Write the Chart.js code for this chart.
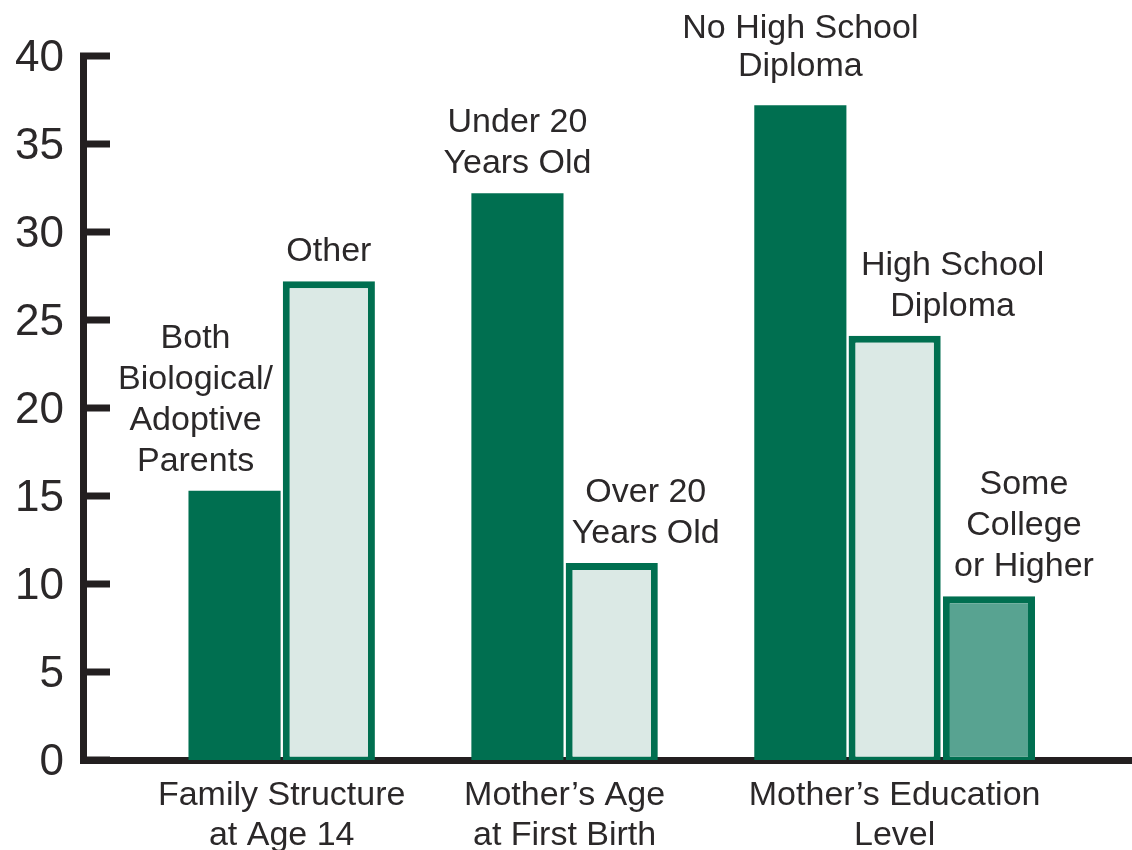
<!DOCTYPE html>
<html>
<head>
<meta charset="utf-8">
<script src="https://cdn.jsdelivr.net/npm/chart.js@4.4.1/dist/chart.umd.min.js"></script>
<style>
  html, body { margin: 0; padding: 0; background: #ffffff; }
  #wrap { width: 1132px; height: 850px; position: relative; }
</style>
</head>
<body>
<div id="wrap"><canvas id="chart"></canvas></div>
<script>
// ---- data ----
const categories = ["Family Structure\nat Age 14", "Mother\u2019s Age\nat First Birth", "Mother\u2019s Education\nLevel"];
const seriesFirst  = [15.3, 32.2, 37.2];
const seriesSecond = [27.2, 11.2, 24.1];
const seriesThird  = [null, null, 9.3];
const labelsFirst  = ["Both\nBiological/\nAdoptive\nParents", "Under 20\nYears Old", "No High School\nDiploma"];
const labelsSecond = ["Other", "Over 20\nYears Old", "High School\nDiploma"];
const labelsThird  = [null, null, "Some\nCollege\nor Higher"];
const yTickValues  = [0, 5, 10, 15, 20, 25, 30, 35, 40];

// ---- style ----
const FONT = "'Liberation Sans', Arial, Helvetica, sans-serif";
const TEXT = '#2b2829';
const AXIS = '#231f20';
const DARK = '#006f50';
const LIGHT = '#dbe9e5';
const MEDIUM = '#58a391';
const labelShiftX = [[-39, 0, 0], [0, 34, 58], [0, 0, 35]];
const labelShiftY = [[0, 0, -9], [0, 0, 0], [0, 0, 0]];
const labelLineH  = [[41, 41, 38], [41, 41, 41], [41, 41, 41]];

const seriesList = [seriesFirst, seriesSecond, seriesThird];
function groupCenter(i) {
  const S = seriesList.length;
  const n = seriesList.filter(a => a[i] !== null && a[i] !== undefined).length;
  return i + ((n - 1) / 2 - (S - 1) / 2) / S;
}

const barLabelPlugin = {
  id: 'barLabels',
  afterDatasetsDraw(chart) {
    const ctx = chart.ctx;
    ctx.save();
    ctx.font = '34px ' + FONT;
    ctx.fillStyle = TEXT;
    ctx.textAlign = 'center';
    ctx.textBaseline = 'alphabetic';
    chart.data.datasets.forEach((ds, d) => {
      const meta = chart.getDatasetMeta(d);
      (ds.barLabels || []).forEach((txt, j) => {
        if (!txt) return;
        const el = meta.data[j];
        const lines = txt.split('\n');
        const x = el.x + labelShiftX[d][j];
        lines.forEach((ln, k) => {
          const y = el.y - 20 + labelShiftY[d][j] - (lines.length - 1 - k) * labelLineH[d][j];
          ctx.fillText(ln, x, y);
        });
      });
    });
    ctx.restore();
  }
};

const yTickMarkPlugin = {
  id: 'yTickMarks',
  afterDatasetsDraw(chart) {
    const s = chart.scales.y, a = chart.chartArea, ctx = chart.ctx;
    ctx.save();
    ctx.strokeStyle = AXIS;
    ctx.lineWidth = 7;
    ctx.lineCap = 'butt';
    s.ticks.forEach(t => {
      const y = s.getPixelForValue(t.value);
      ctx.beginPath();
      ctx.moveTo(a.left - 3, y);
      ctx.lineTo(a.left + 27, y);
      ctx.stroke();
    });
    ctx.restore();
  }
};

new Chart(document.getElementById('chart'), {
  type: 'bar',
  data: {
    labels: categories.map((c, i) => i),
    datasets: [
      { data: seriesFirst, barLabels: labelsFirst, backgroundColor: DARK, borderWidth: 0, base: -0.2 },
      { data: seriesSecond, barLabels: labelsSecond, backgroundColor: LIGHT, borderColor: DARK, borderWidth: 7, borderSkipped: false, base: -0.2 },
      { data: seriesThird, barLabels: labelsThird, backgroundColor: MEDIUM, borderColor: DARK, borderWidth: 7, borderSkipped: false, base: -0.2 }
    ]
  },
  options: {
    responsive: true,
    maintainAspectRatio: false,
    animation: false,
    devicePixelRatio: 1,
    layout: { padding: { top: 56, left: 0, right: 0, bottom: 0 } },
    categoryPercentage: 1,
    barPercentage: 0.977,
    plugins: { legend: { display: false }, tooltip: { enabled: false } },
    scales: {
      x: {
        type: 'linear',
        min: -0.869,
        max: 2.839,
        bounds: 'data',
        offset: false,
        grid: { display: false, drawTicks: false, offset: false },
        border: { display: true, width: 7, color: AXIS },
        afterBuildTicks: s => { s.ticks = categories.map((c, i) => ({ value: groupCenter(i) })); },
        ticks: {
          autoSkip: false, maxRotation: 0, minRotation: 0, padding: 16,
          font: { family: FONT, size: 34, lineHeight: 1.17 },
          color: TEXT,
          callback: (v, i) => categories[i].split('\n')
        },
        afterFit: s => { s.height = 90; }
      },
      y: {
        min: 0,
        max: 40,
        grid: { display: false, drawTicks: false },
        border: { display: true, width: 7, color: AXIS },
        afterBuildTicks: s => { s.ticks = yTickValues.map(v => ({ value: v })); },
        ticks: {
          padding: 19,
          labelOffset: 3,
          font: { family: FONT, size: 44 },
          color: TEXT
        },
        afterFit: s => { s.width = 83; }
      }
    }
  },
  plugins: [barLabelPlugin, yTickMarkPlugin]
});
</script>
</body>
</html>
